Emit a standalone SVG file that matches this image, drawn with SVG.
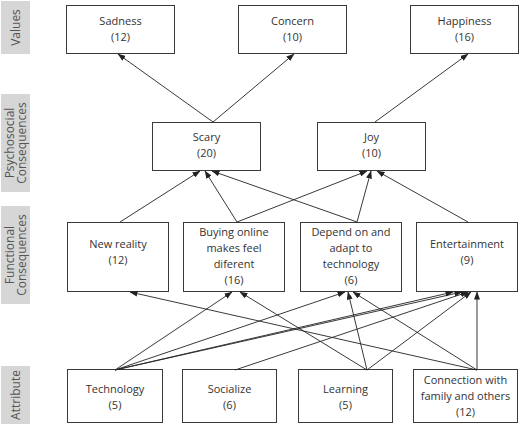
<svg xmlns="http://www.w3.org/2000/svg" width="521" height="425" viewBox="0 0 521 425">
<style>
.lab rect{fill:#d6d6d6;stroke:none}
.lab text{font-family:"Open Sans","Noto Sans",sans-serif;font-size:12px;fill:#555;text-anchor:middle}
.node rect{fill:#fff;stroke:#3a3a3a;stroke-width:1}
.node text{font-family:"Open Sans","Noto Sans",sans-serif;font-size:11px;fill:#333;text-anchor:middle}
#edges line{stroke:#222;stroke-width:0.9;marker-end:url(#ah)}
</style>
<defs>
<marker id="ah" markerUnits="userSpaceOnUse" markerWidth="8" markerHeight="6" refX="7.5" refY="3" orient="auto">
<path d="M0,0 L8,3 L0,6 z" fill="#222"/>
</marker>
</defs>
<rect width="521" height="425" fill="#fff"/>
<g id="label-values" class="lab"><rect x="1" y="1" width="29" height="53"/><text transform="translate(19.5,27.5) rotate(-90)">Values</text></g>
<g id="label-psych" class="lab"><rect x="1" y="94" width="29" height="98"/><text transform="translate(14,143) rotate(-90)">Psychosocial</text><text transform="translate(26,143) rotate(-90)">Consequences</text></g>
<g id="label-func" class="lab"><rect x="1" y="206" width="29" height="98"/><text transform="translate(14,255) rotate(-90)">Functional</text><text transform="translate(26,255) rotate(-90)">Consequences</text></g>
<g id="label-attr" class="lab"><rect x="1" y="366" width="29" height="58"/><text transform="translate(19.5,395) rotate(-90)">Attribute</text></g>

<g id="sadness" class="node"><rect x="66.5" y="5.5" width="108" height="48"/><text x="120.5" y="24.5">Sadness</text><text x="120.5" y="40.5">(12)</text></g>
<g id="concern" class="node"><rect x="238.5" y="5.5" width="108" height="48"/><text x="292.5" y="24.5">Concern</text><text x="292.5" y="40.5">(10)</text></g>
<g id="happiness" class="node"><rect x="410.5" y="5.5" width="108" height="48"/><text x="464.5" y="24.5">Happiness</text><text x="464.5" y="40.5">(16)</text></g>

<g id="scary" class="node"><rect x="152.5" y="122.5" width="108" height="48"/><text x="206.5" y="141">Scary</text><text x="206.5" y="157">(20)</text></g>
<g id="joy" class="node"><rect x="317.5" y="122.5" width="108" height="48"/><text x="371.5" y="141">Joy</text><text x="371.5" y="157">(10)</text></g>

<g id="new-reality" class="node"><rect x="67.5" y="222.5" width="101" height="69"/><text x="118" y="248">New reality</text><text x="118" y="264">(12)</text></g>
<g id="buying" class="node"><rect x="183.5" y="222.5" width="101" height="69"/><text x="234" y="235.5">Buying online</text><text x="234" y="251.5">makes feel</text><text x="234" y="267.5">diferent</text><text x="234" y="283.5">(16)</text></g>
<g id="depend" class="node"><rect x="300.5" y="222.5" width="101" height="69"/><text x="351" y="235.5">Depend on and</text><text x="351" y="251.5">adapt to</text><text x="351" y="267.5">technology</text><text x="351" y="283.5">(6)</text></g>
<g id="entertainment" class="node"><rect x="416.5" y="222.5" width="101" height="69"/><text x="467" y="248">Entertainment</text><text x="467" y="264">(9)</text></g>

<g id="technology" class="node"><rect x="67.5" y="369.5" width="95" height="53"/><text x="115" y="393">Technology</text><text x="115" y="409">(5)</text></g>
<g id="socialize" class="node"><rect x="182.5" y="369.5" width="94" height="53"/><text x="229.5" y="393">Socialize</text><text x="229.5" y="409">(6)</text></g>
<g id="learning" class="node"><rect x="298.5" y="369.5" width="94" height="53"/><text x="345.5" y="393">Learning</text><text x="345.5" y="409">(5)</text></g>
<g id="connection" class="node"><rect x="413.5" y="369.5" width="104" height="53"/><text x="465.5" y="384">Connection with</text><text x="465.5" y="400">family and others</text><text x="465.5" y="416">(12)</text></g>

<g id="edges">
<line x1="213" y1="122" x2="118" y2="54"/>
<line x1="213" y1="122" x2="294" y2="54"/>
<line x1="375" y1="122" x2="468" y2="54"/>
<line x1="120" y1="222" x2="200" y2="171"/>
<line x1="237" y1="222" x2="205" y2="171"/>
<line x1="237" y1="222" x2="367" y2="171"/>
<line x1="357" y1="222" x2="212" y2="171"/>
<line x1="357" y1="222" x2="371" y2="171"/>
<line x1="468" y1="222" x2="377" y2="171"/>
<line x1="115" y1="370" x2="232" y2="292"/>
<line x1="115" y1="370" x2="345" y2="292"/>
<line x1="115" y1="370" x2="453" y2="292"/>
<line x1="115" y1="370" x2="462" y2="292"/>
<line x1="235" y1="370" x2="468" y2="292"/>
<line x1="367" y1="370" x2="240" y2="292"/>
<line x1="367" y1="370" x2="348" y2="292"/>
<line x1="367" y1="370" x2="471" y2="292"/>
<line x1="477" y1="370" x2="130" y2="292"/>
<line x1="477" y1="370" x2="353" y2="292"/>
<line x1="477" y1="370" x2="477" y2="292"/>
</g>
</svg>
